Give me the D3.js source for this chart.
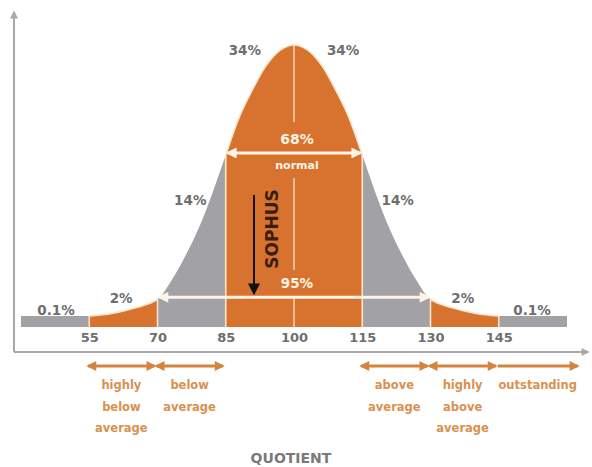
<!DOCTYPE html>
<html>
<head>
<meta charset="utf-8">
<script src="https://cdn.jsdelivr.net/npm/d3@7/dist/d3.min.js"></script>
<style>
	body { margin: 0; background: #fff; }
	svg text { font-family: "DejaVu Sans", Verdana, sans-serif; font-weight: bold; }
</style>
</head>
<body>
<main></main>
<script>
// quotient values and curve height (percent of peak)
const curveIQ = [55, 60, 65, 70, 73, 76, 79, 82, 85, 88, 91, 94, 97, 100,
	103, 106, 109, 112, 115, 118, 121, 124, 127, 130, 135, 140, 145];
const curveHeight = [3.9, 4.8, 6.7, 9.8, 16.3, 24.8, 34.8, 47.2, 61, 74.5, 84.5, 93, 98.2, 100,
	98.2, 93, 84.5, 74.5, 61, 47.2, 34.8, 24.8, 16.3, 9.8, 6.7, 4.8, 3.9];
const tailHeight = 3.9;
const bandEdges = [40, 55, 70, 85, 115, 130, 145, 160];
const tickValues = [55, 70, 85, 100, 115, 130, 145];
const shareLabels = ["0.1%", "2%", "14%", "34%", "34%", "14%", "2%", "0.1%"];
const rangeSpans = [[55, 70], [70, 85], [115, 130], [130, 145], [145, 163]];
const rangeNames = [["highly", "below", "average"], ["below", "average"], ["above", "average"],
	["highly", "above", "average"], ["outstanding"]];
const innerLabel = "68%";
const innerSub = "normal";
const outerLabel = "95%";
const brandLabel = "SOPHUS";
const axisTitle = "QUOTIENT";

const width = 592;
const height = 467;
const orange = "#d8732f";
const grey = "#a2a2a6";
const cream = "#fbe4c9";
const textGrey = "#6e6e6e";
const rangeColor = "#d4843f";

const svg = d3.select("main").append("svg")
	.attr("width", width)
	.attr("height", height);

const xScale = d3.scaleLinear().domain([40, 160]).range([21, 567]);
const yScale = d3.scaleLinear().domain([0, 100]).range([327, 45]);

const curve = curveIQ.map((d, i) => ({ iq: d, h: curveHeight[i] }));
const heightAt = iq => curveHeight[curveIQ.indexOf(iq)];

// markers
const defs = svg.append("defs");
function marker(id, color, w, h) {
	defs.append("marker")
		.attr("id", id)
		.attr("viewBox", "0 0 10 10")
		.attr("refX", 8).attr("refY", 5)
		.attr("markerUnits", "userSpaceOnUse")
		.attr("markerWidth", w).attr("markerHeight", h)
		.attr("orient", "auto-start-reverse")
		.append("path")
		.attr("d", "M0,0 L10,5 L0,10 Z")
		.attr("fill", color);
}
marker("arrWhite", "#fdf3e7", 13, 11);
marker("arrBlack", "#111", 12, 12);
marker("arrOrange", rangeColor, 12, 10);
marker("arrAxis", "#a8a8a8", 9, 8);

// axes lines
svg.append("line")
	.attr("x1", 14).attr("y1", 352).attr("x2", 14).attr("y2", 12)
	.attr("stroke", "#a8a8a8").attr("stroke-width", 2)
	.attr("marker-end", "url(#arrAxis)");
svg.append("line")
	.attr("x1", 14).attr("y1", 352).attr("x2", 588).attr("y2", 352)
	.attr("stroke", "#a8a8a8").attr("stroke-width", 2)
	.attr("marker-end", "url(#arrAxis)");

// bands of the curve
const smooth = d3.curveCatmullRom.alpha(0.5);
const area = d3.area()
	.x(d => xScale(d.iq))
	.y0(yScale(0))
	.y1(d => yScale(d.h))
	.curve(smooth);
const edge = d3.line()
	.x(d => xScale(d.iq))
	.y(d => yScale(d.h))
	.curve(smooth);

const bandFill = [grey, orange, grey, orange, grey, orange, grey];
for (let i = 0; i < bandEdges.length - 1; i++) {
	const a = bandEdges[i], b = bandEdges[i + 1];
	if (i === 0 || i === bandEdges.length - 2) {
		svg.append("rect")
			.attr("x", xScale(a))
			.attr("y", yScale(tailHeight))
			.attr("width", xScale(b) - xScale(a))
			.attr("height", yScale(0) - yScale(tailHeight))
			.attr("fill", bandFill[i]);
		continue;
	}
	defs.append("clipPath").attr("id", "band" + i)
		.append("rect")
		.attr("x", xScale(a)).attr("y", 0)
		.attr("width", xScale(b) - xScale(a)).attr("height", height);
	svg.append("path")
		.datum(curve)
		.attr("d", area)
		.attr("fill", bandFill[i])
		.attr("clip-path", `url(#band${i})`);
	// light edge only over the orange bands
	if (bandFill[i] === orange) {
		svg.append("path")
			.datum(curve)
			.attr("d", edge)
			.attr("fill", "none")
			.attr("stroke", cream)
			.attr("stroke-width", 1.5)
			.attr("clip-path", `url(#band${i})`);
	}
}

// dividers
svg.selectAll(".divider")
	.data(tickValues.filter(d => d !== 100))
	.enter().append("line")
	.attr("x1", d => xScale(d)).attr("x2", d => xScale(d))
	.attr("y1", yScale(0))
	.attr("y2", d => yScale(heightAt(d)))
	.attr("stroke", cream)
	.attr("stroke-width", 1.6);

const centreGaps = [[100, 72.7], [52.8, 20.2], [11, 0]];
centreGaps.forEach(g => {
	svg.append("line")
		.attr("x1", xScale(100)).attr("x2", xScale(100))
		.attr("y1", yScale(g[0])).attr("y2", yScale(g[1]))
		.attr("stroke", cream).attr("stroke-width", 1.3);
});

// 68% and 95% arrows
function whiteArrow(a, b) {
	const yy = yScale(heightAt(a)) - 2;
	svg.append("line")
		.attr("x1", xScale(a) + 2).attr("x2", xScale(b) - 2)
		.attr("y1", yy).attr("y2", yy)
		.attr("stroke", "#fdf3e7").attr("stroke-width", 3)
		.attr("marker-start", "url(#arrWhite)")
		.attr("marker-end", "url(#arrWhite)");
	return yy;
}
const y68 = whiteArrow(85, 115);
const y95 = whiteArrow(70, 130);

svg.append("text").attr("x", xScale(100) + 3).attr("y", y68 - 9)
	.attr("text-anchor", "middle").attr("font-size", 14).attr("fill", "#fdf3e7").text(innerLabel);
svg.append("text").attr("x", xScale(100) + 3).attr("y", y68 + 16)
	.attr("text-anchor", "middle").attr("font-size", 11).attr("fill", "#fdf3e7").text(innerSub);
svg.append("text").attr("x", xScale(100) + 3).attr("y", y95 - 9)
	.attr("text-anchor", "middle").attr("font-size", 13.5).attr("fill", "#fdf3e7").text(outerLabel);

// brand arrow
svg.append("line")
	.attr("x1", 254).attr("x2", 254).attr("y1", 195).attr("y2", 293)
	.attr("stroke", "#111").attr("stroke-width", 2)
	.attr("marker-end", "url(#arrBlack)");
svg.append("text")
	.attr("transform", "translate(278,229) rotate(-90)")
	.attr("text-anchor", "middle")
	.attr("font-size", 17)
	.attr("fill", "#3a1d0c")
	.text(brandLabel);

// share labels, anchored in data units
const shareAnchor = [[47.7, 6], [62, 10.3], [77.2, 45], [89.2, 98.2], [110.8, 98.2], [122.8, 45], [137.1, 10.3], [152.3, 6]];
svg.selectAll(".share")
	.data(shareLabels)
	.enter().append("text")
	.attr("x", (d, i) => xScale(shareAnchor[i][0]))
	.attr("y", (d, i) => yScale(shareAnchor[i][1]))
	.attr("dy", "0.36em")
	.attr("text-anchor", "middle")
	.attr("font-size", 13.5)
	.attr("fill", textGrey)
	.text(d => d);

// ticks
const xAxis = svg.append("g")
	.attr("transform", `translate(0, ${yScale(0)})`)
	.call(d3.axisBottom(xScale).tickValues(tickValues).tickSize(0).tickPadding(6));
xAxis.select(".domain").remove();
xAxis.selectAll("text")
	.attr("font-family", "'DejaVu Sans', Verdana, sans-serif")
	.attr("font-size", 13)
	.attr("fill", textGrey);

// range arrows and names
rangeSpans.forEach((s, i) => {
	const x1 = xScale(s[0]) - 2, x2 = xScale(s[1]) - 2;
	const line = svg.append("line")
		.attr("x1", x1 + 1).attr("x2", x2 - 1)
		.attr("y1", 366).attr("y2", 366)
		.attr("stroke", rangeColor).attr("stroke-width", 3)
		.attr("marker-end", "url(#arrOrange)");
	if (i < rangeSpans.length - 1) line.attr("marker-start", "url(#arrOrange)");
	rangeNames[i].forEach((t, j) => {
		svg.append("text")
			.attr("x", (x1 + x2) / 2)
			.attr("y", 389 + j * 21.5)
			.attr("text-anchor", "middle")
			.attr("font-size", 11.5)
			.attr("fill", "#d9914f")
			.text(t);
	});
});

svg.append("text")
	.attr("x", 291).attr("y", 463)
	.attr("text-anchor", "middle")
	.attr("font-size", 14)
	.attr("fill", "#7a7a7a")
	.text(axisTitle);
</script>
</body>
</html>
